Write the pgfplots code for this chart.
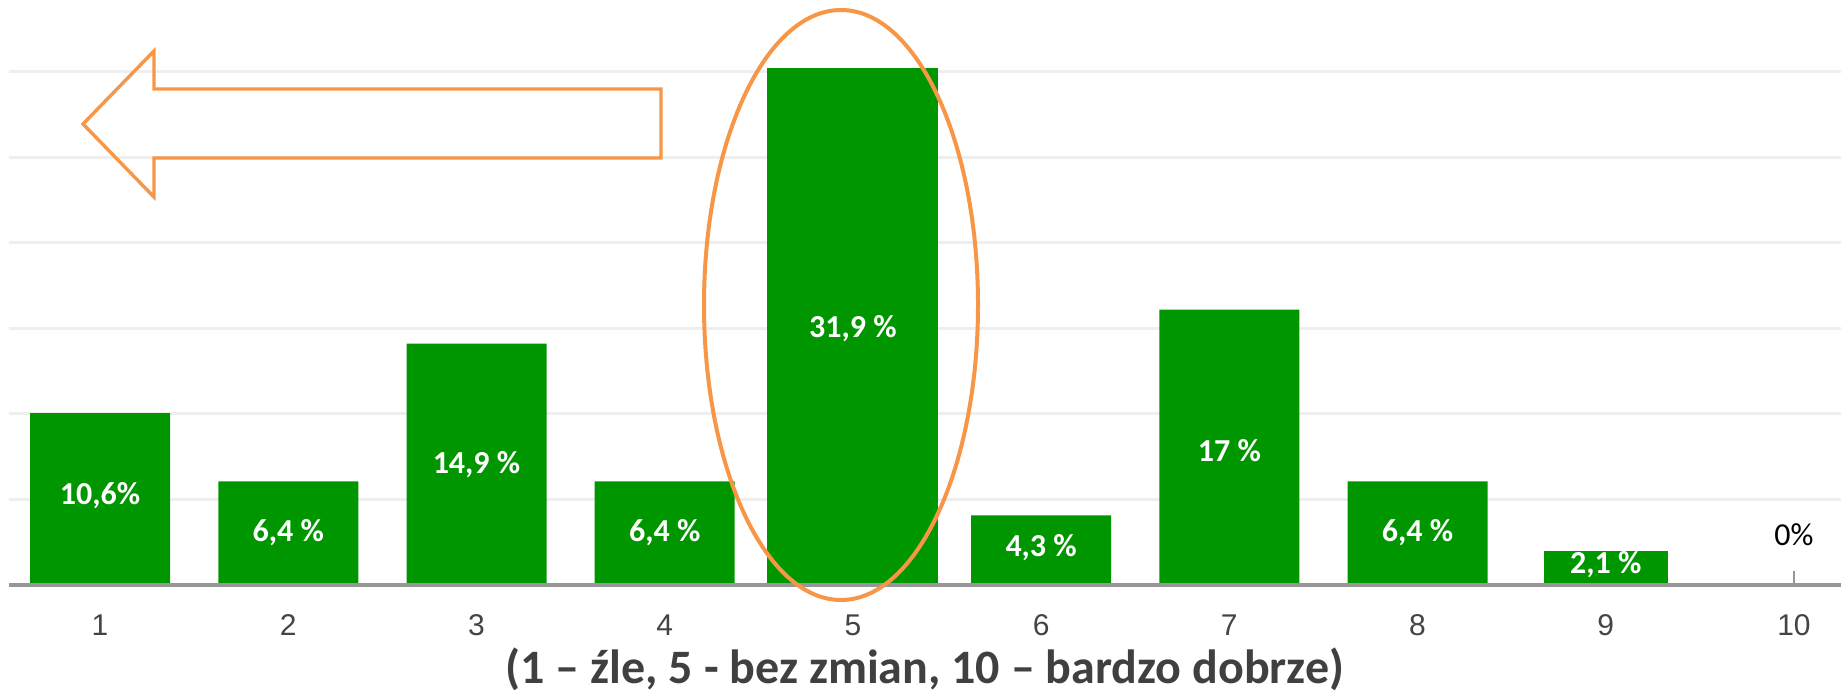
\documentclass[border=0pt]{standalone}
\usepackage{pgfplots}
\pgfplotsset{compat=1.18}
\usepackage{fontspec}
\setmainfont{Liberation Sans}
\newfontfamily\calibri{Carlito}
\definecolor{bargreen}{RGB}{0,150,0}
\definecolor{orng}{RGB}{247,150,70}
\definecolor{gridc}{RGB}{238,238,238}
\definecolor{basec}{RGB}{150,150,150}
\definecolor{tickc}{RGB}{68,68,68}
\definecolor{labc}{RGB}{64,64,64}
\begin{document}
\begin{tikzpicture}
\begin{axis}[
  at={(0pt,0pt)}, anchor=south west,
  scale only axis, width=916pt, height=262.5pt,
  xmin=0.516, xmax=10.25, ymin=0, ymax=32.4,
  axis line style={draw=none},
  /pgf/number format/assume math mode=true,
  xtick={1,...,10}, xtick pos=bottom, tick align=inside, major tick length=7pt,
  xtick style={draw=basec, line width=0.8pt},
  ytick={5.28,10.56,15.84,21.12,26.4,31.68}, ytick style={draw=none}, yticklabels={},
  ymajorgrids, major grid style={draw=gridc, line width=1.5pt},
  xticklabel style={font=\fontsize{15}{18}\selectfont, text=tickc, anchor=center, yshift=-20pt},
  clip=false,
]
\addplot[ybar, bar width=70pt, bar shift=0pt, fill=bargreen, draw=none]
  coordinates {(1,10.6) (2,6.4) (3,14.9) (4,6.4) (6,4.3) (7,17) (8,6.4) (10,0)};
\addplot[ybar, bar width=85.5pt, bar shift=0pt, fill=bargreen, draw=none]
  coordinates {(5,31.9)};
\addplot[ybar, bar width=62pt, bar shift=0pt, fill=bargreen, draw=none]
  coordinates {(9,2.1)};
\draw[basec, line width=2pt] (axis cs:0.516,0) -- (axis cs:10.25,0);
\tikzset{bl/.style={font=\calibri\bfseries\fontsize{16}{19}\selectfont, text=white}}
\node[bl] at (axis cs:1,5.49) {10,6\%};
\node[bl] at (axis cs:2,3.21) {6,4 \%};
\node[bl] at (axis cs:3,7.41) {14,9 \%};
\node[bl] at (axis cs:4,3.21) {6,4 \%};
\node[bl] at (axis cs:5,15.8) {31,9 \%};
\node[bl] at (axis cs:6,2.28) {4,3 \%};
\node[bl] at (axis cs:7,8.27) {17 \%};
\node[bl] at (axis cs:8,3.21) {6,4 \%};
\node[bl] at (axis cs:9,1.23) {2,1 \%};
\node[font=\calibri\fontsize{16}{19}\selectfont, text=black] at (axis cs:10,3.09) {0\%};
\end{axis}
\begin{scope}[shift={(-4.5pt,292.5pt)}, x=0.5pt, y=-0.5pt]
\draw[orng, line width=2pt] (841,305) ellipse [x radius=68.5pt, y radius=147.5pt];
\draw[orng, line width=1.7pt, line join=miter] (83,124) -- (154,51) -- (154,89) -- (661,89) -- (661,158) -- (154,158) -- (154,197) -- cycle;
\node[font=\calibri\bfseries\fontsize{24}{28}\selectfont, text=labc, anchor=base] at (925,683) {(1 – źle, 5 - bez zmian, 10 – bardzo dobrze)};
\end{scope}
\pgfresetboundingbox
\useasboundingbox (-4.5pt,292.5pt) rectangle (916pt,-53.5pt);
\end{tikzpicture}
\end{document}
